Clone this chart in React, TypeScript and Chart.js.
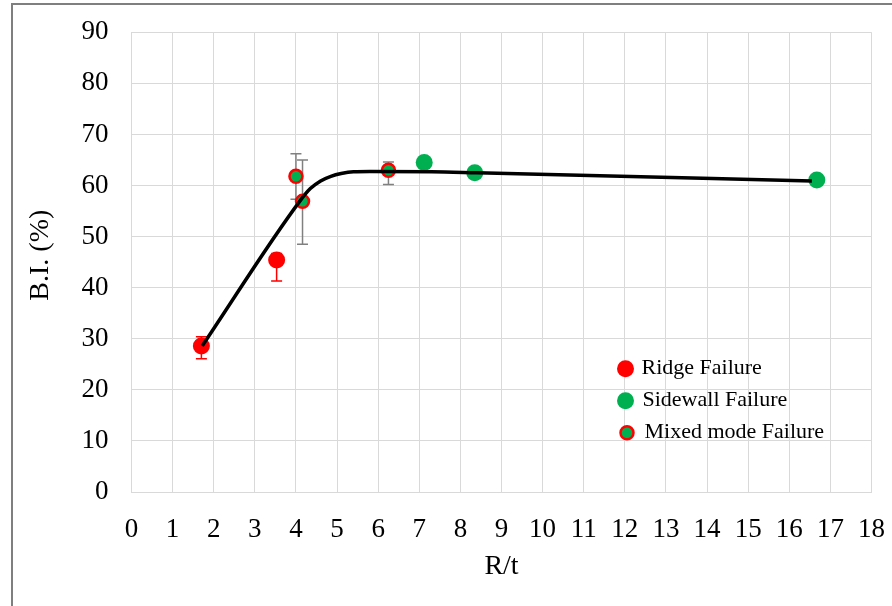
import React, { useEffect, useRef } from "react";
import { Chart, registerables } from "chart.js";

Chart.register(...registerables);

// ---- data ----
const ridgeX = [1.7, 3.53];
const ridgeY = [28.6, 45.4];
const ridgeErrLow = [26.1, 41.3];
const ridgeErrHigh = [30.4, 46.7];

const sidewallX = [7.12, 8.35, 16.67];
const sidewallY = [64.5, 62.5, 61.1];

const mixedX = [4.0, 4.16, 6.25];
const mixedY = [61.8, 56.9, 63.0];
const mixedErrLow = [57.3, 48.5, 60.2];
const mixedErrHigh = [66.2, 65.0, 64.6];

const trendX = [1.72, 4.1, 4.35, 4.6, 4.85, 5.1, 5.4, 5.8, 7.3, 8.4, 16.55];
const trendY = [28.6, 57.0, 59.4, 60.9, 61.8, 62.35, 62.7, 62.75, 62.7, 62.5, 60.9];

const legendLabels = ["Ridge Failure", "Sidewall Failure", "Mixed mode Failure"];
const xTitle = "R/t";
const yTitle = "B.I. (%)";

const RED = "#ff0000";
const GREEN = "#00b050";
const GRID = "#d9d9d9";
const SERIF = "'Liberation Serif', 'Times New Roman', serif";

const pts = (xs: number[], ys: number[]) => xs.map((x, i) => ({ x, y: ys[i] }));

export default function App() {
  const ref = useRef<HTMLCanvasElement>(null);

  useEffect(() => {
    const canvas = ref.current;
    if (!canvas) return;

    const errorBars = {
      id: "errorBars",
      beforeDatasetsDraw(chart: any) {
        const { ctx } = chart;
        const xs = chart.scales.x;
        const ys = chart.scales.y;
        const draw = (px: number[], lo: number[], hi: number[], color: string) => {
          ctx.save();
          ctx.strokeStyle = color;
          ctx.lineWidth = 1.5;
          px.forEach((xv, i) => {
            const X = xs.getPixelForValue(xv);
            const Y1 = ys.getPixelForValue(lo[i]);
            const Y2 = ys.getPixelForValue(hi[i]);
            ctx.beginPath();
            ctx.moveTo(X, Y1);
            ctx.lineTo(X, Y2);
            ctx.moveTo(X - 5.5, Y1);
            ctx.lineTo(X + 5.5, Y1);
            ctx.moveTo(X - 5.5, Y2);
            ctx.lineTo(X + 5.5, Y2);
            ctx.stroke();
          });
          ctx.restore();
        };
        draw(mixedX, mixedErrLow, mixedErrHigh, "#808080");
        draw(ridgeX, ridgeErrLow, ridgeErrHigh, RED);
      },
    };

    const customLegend = {
      id: "customLegend",
      afterDatasetsDraw(chart: any) {
        const { ctx, chartArea } = chart;
        const mx = chartArea.left + 494;
        const rows = [chartArea.top + 336.5, chartArea.top + 368.5, chartArea.top + 400.5];
        ctx.save();
        ctx.fillStyle = RED;
        ctx.beginPath();
        ctx.arc(mx, rows[0], 8.5, 0, Math.PI * 2);
        ctx.fill();
        ctx.fillStyle = GREEN;
        ctx.beginPath();
        ctx.arc(mx, rows[1], 8.5, 0, Math.PI * 2);
        ctx.fill();
        ctx.beginPath();
        ctx.arc(mx + 1.5, rows[2], 6.5, 0, Math.PI * 2);
        ctx.fillStyle = GREEN;
        ctx.fill();
        ctx.lineWidth = 2.5;
        ctx.strokeStyle = RED;
        ctx.stroke();
        ctx.fillStyle = "#000";
        ctx.font = `22px ${SERIF}`;
        ctx.textBaseline = "middle";
        ctx.textAlign = "left";
        ctx.fillText(legendLabels[0], mx + 16, rows[0] - 1);
        ctx.fillText(legendLabels[1], mx + 17, rows[1] - 1);
        ctx.fillText(legendLabels[2], mx + 19, rows[2] - 1);
        ctx.restore();
      },
    };

    const chart = new Chart(canvas, {
      type: "scatter",
      data: {
        datasets: [
          {
            type: "line",
            label: "trend",
            data: pts(trendX, trendY),
            borderColor: "#000",
            borderWidth: 3.5,
            pointRadius: 0,
            fill: false,
            cubicInterpolationMode: "monotone",
            showLine: true,
          } as any,
          {
            label: legendLabels[2],
            data: pts(mixedX, mixedY),
            backgroundColor: GREEN,
            borderColor: RED,
            borderWidth: 2.5,
            pointRadius: 6.5,
          },
          {
            label: legendLabels[1],
            data: pts(sidewallX, sidewallY),
            backgroundColor: GREEN,
            borderWidth: 0,
            pointRadius: 8.5,
          },
          {
            label: legendLabels[0],
            data: pts(ridgeX, ridgeY),
            backgroundColor: RED,
            borderWidth: 0,
            pointRadius: 8.5,
          },
        ],
      },
      options: {
        responsive: false,
        animation: false,
        layout: { padding: { left: 0, top: 32.3, right: 20.5, bottom: 0 } },
        plugins: {
          legend: { display: false },
          tooltip: { enabled: false },
        },
        scales: {
          x: {
            type: "linear",
            min: 0,
            max: 18,
            afterFit: (s: any) => {
              s.height = 114;
              s.paddingLeft = 0;
              s.paddingRight = 0;
            },
            ticks: {
              stepSize: 1,
              autoSkip: false,
              maxRotation: 0,
              padding: 22,
              color: "#000",
              font: { family: SERIF, size: 27 },
            },
            grid: { color: GRID, drawTicks: false, lineWidth: 1 },
            border: { color: GRID },
            title: {
              display: true,
              text: xTitle,
              color: "#000",
              font: { family: SERIF, size: 28 },
              padding: { top: 0, bottom: 23 },
            },
          },
          y: {
            type: "linear",
            min: 0,
            max: 90,
            afterFit: (s: any) => {
              s.width = 131.5;
              s.paddingTop = 0;
              s.paddingBottom = 0;
            },
            ticks: {
              stepSize: 10,
              padding: 23,
              color: "#000",
              font: { family: SERIF, size: 27 },
            },
            grid: { color: GRID, drawTicks: false, lineWidth: 1 },
            border: { color: GRID },
            title: {
              display: true,
              text: "  " + yTitle,
              color: "#000",
              font: { family: SERIF, size: 28 },
              padding: { top: 24, bottom: 0 },
            },
          },
        },
      },
      plugins: [errorBars, customLegend],
    } as any);

    return () => chart.destroy();
  }, []);

  return (
    <div
      style={{
        position: "fixed",
        left: 0,
        top: 0,
        width: 892,
        height: 606,
        background: "#fff",
        overflow: "hidden",
      }}
    >
      <div
        style={{
          position: "absolute",
          left: 11,
          top: 3,
          width: 900,
          height: 620,
          borderTop: "2px solid #7f7f7f",
          borderLeft: "2px solid #7f7f7f",
        }}
      />
      <canvas
        ref={ref}
        width={892}
        height={606}
        style={{ position: "absolute", left: 0, top: 0, width: 892, height: 606 }}
      />
    </div>
  );
}
